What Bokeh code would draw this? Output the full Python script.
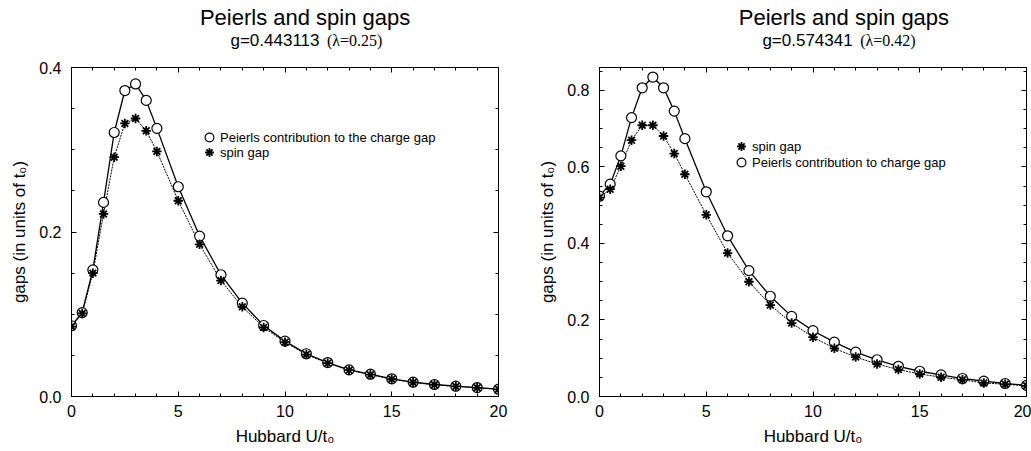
from bokeh.plotting import figure
from bokeh.models import (Range1d, FixedTicker, PrintfTickFormatter, LinearAxis,
                          Legend, LegendItem)
from bokeh.layouts import row, column
from bokeh.core.properties import value
from bokeh.embed import file_html
from bokeh.resources import INLINE

# ---------------- data ----------------
U = [0, 0.5, 1, 1.5, 2, 2.5, 3, 3.5, 4, 5, 6, 7, 8, 9, 10,
     11, 12, 13, 14, 15, 16, 17, 18, 19, 20]

# g=0.443113 (lambda=0.25)
peierls_025 = [0.086, 0.102, 0.154, 0.236, 0.321, 0.372, 0.380, 0.360, 0.326,
               0.255, 0.195, 0.148, 0.1135, 0.0863, 0.0673, 0.052, 0.0413,
               0.0324, 0.0271, 0.0215, 0.0174, 0.0146, 0.0125, 0.0109, 0.0089]
spin_025 = [0.085, 0.101, 0.150, 0.222, 0.291, 0.332, 0.338, 0.323, 0.298,
            0.238, 0.185, 0.141, 0.109, 0.084, 0.066, 0.051, 0.0405,
            0.032, 0.0265, 0.021, 0.017, 0.0143, 0.0122, 0.0106, 0.0087]

# g=0.574341 (lambda=0.42)
peierls_042 = [0.524, 0.555, 0.629, 0.729, 0.807, 0.835, 0.807, 0.746, 0.674,
               0.535, 0.420, 0.329, 0.262, 0.2095, 0.172, 0.142, 0.116,
               0.096, 0.079, 0.066, 0.0565, 0.047, 0.040, 0.034, 0.029]
spin_042 = [0.520, 0.542, 0.602, 0.670, 0.709, 0.709, 0.681, 0.635, 0.581,
            0.475, 0.375, 0.300, 0.239, 0.192, 0.155, 0.126, 0.103,
            0.085, 0.0704, 0.059, 0.0504, 0.0435, 0.0355, 0.032, 0.028]

x_major = [0, 5, 10, 15, 20]
y_major_025 = [0.0, 0.2, 0.4]
y_major_042 = [0.0, 0.2, 0.4, 0.6, 0.8]

title_text = "Peierls and spin gaps"
sub_g_025, sub_l_025 = "g=0.443113", "(\u03bb=0.25)"
sub_g_042, sub_l_042 = "g=0.574341", "(\u03bb=0.42)"
xlabel = "Hubbard U/t\u2080"
ylabel = "gaps (in units of t\u2080)"
lab_peierls_025 = "Peierls contribution to the charge gap"
lab_peierls_042 = "Peierls contribution to charge gap"
lab_spin = "spin gap"

SANS = "Liberation Sans"
SERIF = "Liberation Serif"
FW = 427
FH = 329
HEAD_H = 60


def style_axis(ax, labels=True, standoff=6):
    ax.axis_line_color = "black"
    ax.axis_line_width = 1
    ax.major_tick_line_color = "black"
    ax.minor_tick_line_color = "black"
    ax.major_tick_in = 5
    ax.major_tick_out = 0
    ax.minor_tick_in = 3
    ax.minor_tick_out = 0
    if labels:
        ax.major_label_text_font = SANS
        ax.major_label_text_font_size = "16px"
        ax.major_label_text_color = "black"
        ax.major_label_standoff = standoff
        ax.axis_label_text_font = SANS
        ax.axis_label_text_font_size = "17px"
        ax.axis_label_text_font_style = "normal"
        ax.axis_label_text_color = "black"
    else:
        ax.major_label_text_color = None
        ax.major_label_standoff = 0
        ax.axis_label = None


def header(width, title_x, sub_end, sub_start, sub_g, sub_l):
    h = figure(width=width, height=HEAD_H, x_range=Range1d(0, width),
               y_range=Range1d(0, HEAD_H), min_border=0,
               x_axis_type=None, y_axis_type=None,
               output_backend="svg", toolbar_location=None, title=None)
    h.xgrid.visible = False
    h.ygrid.visible = False
    h.outline_line_color = None
    h.text(x=[title_x], y=[HEAD_H - 17], text=[title_text],
           text_font=value(SANS), text_font_size="22px",
           text_align="center", text_baseline="middle", text_color="black")
    h.text(x=[sub_end], y=[HEAD_H - 40], text=[sub_g],
           text_font=value(SANS), text_font_size="17px",
           text_align="right", text_baseline="middle", text_color="black")
    h.text(x=[sub_start], y=[HEAD_H - 40], text=[sub_l],
           text_font=value(SERIF), text_font_size="16px",
           text_align="left", text_baseline="middle", text_color="black")
    return h


def one_legend(renderer, label, loc):
    return Legend(items=[LegendItem(label=label, renderers=[renderer])],
                  location=loc, label_text_font=SANS,
                  label_text_font_size="13px", label_text_color="black",
                  glyph_width=22, glyph_height=22, label_height=22,
                  label_standoff=-3, spacing=0, padding=0, margin=0,
                  border_line_alpha=0, background_fill_alpha=0)


def panel(bl, br, ymax, y_major, peierls, spin, peierls_label, loc_c, loc_s):
    p = figure(frame_width=FW, frame_height=FH,
               min_border_left=bl, min_border_right=br,
               min_border_top=7, min_border_bottom=55,
               x_range=Range1d(0, 20), y_range=Range1d(0, ymax),
               output_backend="svg", toolbar_location=None, title=None)
    p.xgrid.visible = False
    p.ygrid.visible = False
    p.outline_line_color = "black"

    xt = FixedTicker(ticks=x_major, minor_ticks=list(range(0, 21)))
    nminor = int(round(ymax / 0.05)) + 1
    yt = FixedTicker(ticks=y_major, minor_ticks=[0.05 * i for i in range(nminor)])

    p.xaxis[0].ticker = xt
    p.yaxis[0].ticker = yt
    p.yaxis[0].formatter = PrintfTickFormatter(format="%.1f")
    style_axis(p.xaxis[0], True, 8)
    style_axis(p.yaxis[0], True, 10)
    p.xaxis[0].axis_label = xlabel
    p.xaxis[0].axis_label_standoff = 7
    p.yaxis[0].axis_label = ylabel
    p.yaxis[0].axis_label_standoff = 7

    top = LinearAxis(ticker=xt)
    right = LinearAxis(ticker=yt)
    style_axis(top, False)
    style_axis(right, False)
    p.add_layout(top, "above")
    p.add_layout(right, "right")

    p.line(U, peierls, line_color="black", line_width=1.3)
    p.line(U, spin, line_color="black", line_width=1, line_dash="2 1")
    c = p.scatter(U, peierls, marker="circle", size=10, line_color="black",
                  fill_color="white", line_width=1.2)
    s = p.scatter(U, spin, marker="asterisk", size=9.5, line_color="black",
                  line_width=1.8)

    p.add_layout(one_legend(c, peierls_label, loc_c))
    p.add_layout(one_legend(s, lab_spin, loc_s))
    return p


h1 = header(520, 284.5, 302, 311, sub_g_025, sub_l_025)
p1 = panel(71, 22, 0.4, y_major_025, peierls_025, spin_025,
           lab_peierls_025, (127, 248), (127, 233))
h2 = header(511, 292.5, 303, 312, sub_g_042, sub_l_042)
p2 = panel(79, 5, 0.86, y_major_042, peierls_042, spin_042,
           lab_peierls_042, (131, 223), (131, 239))

layout = row(column(h1, p1, spacing=0), column(h2, p2, spacing=0), spacing=0)
open("out.html", "w").write(file_html(layout, INLINE))
